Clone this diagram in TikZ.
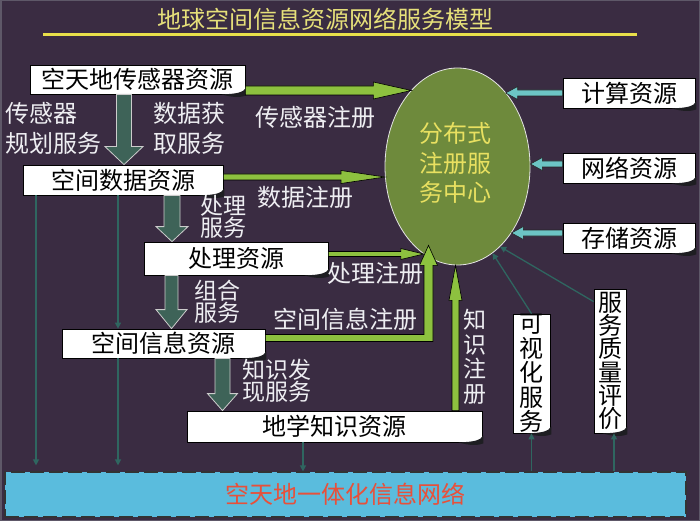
\documentclass[tikz,border=0pt]{standalone}
\usepackage{fontspec}
\newfontfamily\cjk{Noto Sans CJK SC}
\usetikzlibrary{arrows.meta,calc,shapes.geometric}
\definecolor{bgc}{HTML}{3A2C42}
\definecolor{framec}{HTML}{5E5868}
\definecolor{titlec}{HTML}{E6E07A}
\definecolor{rulec}{HTML}{E8E04A}
\definecolor{labelc}{HTML}{EEEEF2}
\definecolor{ellc}{HTML}{6E8A3C}
\definecolor{elltext}{HTML}{E8E060}
\definecolor{greenc}{HTML}{8DC13F}
\definecolor{cyanc}{HTML}{6CC4C4}
\definecolor{tealc}{HTML}{3E6358}
\definecolor{thinc}{HTML}{2F6660}
\definecolor{netc}{HTML}{5ABCDD}
\definecolor{nettext}{HTML}{E8503A}
\definecolor{curlc}{HTML}{1E1E22}
\newcommand\cjkfont[2]{\cjk\fontsize{#1}{#2}\selectfont}
% fat arrow: start, tip, half shaft, half head, head length, style
\newcommand\fatarrow[6]{%
  \coordinate (faA) at (#1);
  \coordinate (faB) at (#2);
  \coordinate (faC) at ($(faB)!#5!(faA)$);
  \filldraw[#6] ($(faA)!#3!90:(faB)$) -- ($(faC)!#3!-90:(faA)$) -- ($(faC)!#4!-90:(faA)$)
    -- (faB) -- ($(faC)!#4!90:(faA)$) -- ($(faC)!#3!90:(faA)$) -- ($(faA)!#3!-90:(faB)$) -- cycle;}
\newcommand\curl[1]{%
  \fill[curlc] let \p1=(#1.south east) in
  (\x1-24pt,\y1) .. controls (\x1-12pt,\y1-3.5pt) and (\x1-4pt,\y1-3pt) .. (\x1+1pt,\y1-1pt)
  -- (\x1+1pt,\y1+7pt) .. controls (\x1-2pt,\y1+2pt) and (\x1-8pt,\y1+0.5pt) .. (\x1-24pt,\y1) -- cycle;}
\begin{document}
\begin{tikzpicture}[x=1pt,y=-1pt,
  box/.style={draw=black, fill=white, line width=0.8pt, inner sep=0pt, text=black, font=\cjkfont{24}{26}},
  vbox/.style={box, align=center},
  lbl/.style={text=labelc, inner sep=0pt, align=left, font=\cjkfont{24}{30}},
  lbltight/.style={text=labelc, inner sep=0pt, align=left, font=\cjkfont{23}{22}},
  lblvert/.style={text=labelc, inner sep=0pt, align=center, font=\cjkfont{23}{24.5}},
  bigarrow/.style={fill=tealc, draw=black!20, line width=0.8pt},
  greenarrow/.style={fill=greenc, draw=black, line width=0.6pt},
  cyanarrow/.style={fill=cyanc, draw=black!85, line width=0.6pt},
  thinarrow/.style={draw=thinc, line width=1.3pt, -{Triangle[length=6pt,width=6pt]}}]
\fill[bgc] (0,0) rectangle (700,521);
\useasboundingbox (0,0) rectangle (700,521);
\draw[framec, line width=1.5pt] (0.75,0.75) rectangle (699.25,520.25);

% title
\node[text=titlec, font=\cjkfont{24}{28}, inner sep=0pt] (title) at (325,19) {地球空间信息资源网络服务模型};
\draw[rulec, line width=2.5pt] (43,34.5) -- (637,34.5);

% network bar
\node[draw=black!80, fill=netc, dash pattern=on 14pt off 5pt, line width=1.2pt,
  minimum width=681pt, minimum height=45pt, inner sep=0pt, text=nettext, font=\cjkfont{24}{26}]
  (net) at (345.5,494.5) {空天地一体化信息网络};

% ellipse
\node[ellipse, draw=white!80!gray, fill=ellc, line width=0.8pt, minimum width=145pt, minimum height=197pt, inner sep=0pt]
  (ell) at (457.5,166.5) {};
\node[text=elltext, align=center, inner sep=0pt, font=\cjkfont{24}{29.5}] (elltxt) at (455,163) {分布式\\注册服\\务中心};

% boxes
\node[box, minimum width=215pt, minimum height=29pt] (sensor) at (137.5,79.5) {空天地传感器资源};
\node[box, minimum width=200pt, minimum height=30pt] (sdata) at (123,180) {空间数据资源};
\node[box, minimum width=184pt, minimum height=33pt] (proc) at (236,258.5) {处理资源};
\node[box, minimum width=203pt, minimum height=29pt] (sinfo) at (163.5,343.5) {空间信息资源};
\node[box, minimum width=295pt, minimum height=31pt] (geo) at (334.5,426.5) {地学知识资源};
\node[box, minimum width=132pt, minimum height=30pt] (comp) at (629,93) {计算资源};
\node[box, minimum width=132pt, minimum height=30pt] (netr) at (629,168) {网络资源};
\node[box, minimum width=132pt, minimum height=30pt] (stor) at (629,238) {存储资源};
\node[vbox, minimum width=37pt, minimum height=119pt, font=\cjkfont{24}{24.5}] (vis) at (531.5,373.5) {可\\视\\化\\服\\务};
\node[vbox, minimum width=32pt, minimum height=144pt, font=\cjkfont{24}{23.2}] (qual) at (610,361) {服\\务\\质\\量\\评\\价};
\foreach \b in {sensor,sdata,proc,sinfo,geo,comp,netr,stor,vis,qual} {\curl{\b}}

% thin connectors
\coordinate (tx1) at (36,0);
\coordinate (tx2) at (118,0);
\coordinate (tx3) at (303,0);
\coordinate (tx5) at (614,0);
\draw[thinarrow, shorten >=6pt] (sdata.south -| tx1) -- (net.north -| tx1);
\draw[thinarrow] (sdata.south -| tx2) -- (sinfo.north -| tx2);
\draw[thinarrow, shorten >=6pt] (sinfo.south -| tx2) -- (net.north -| tx2);
\draw[thinarrow] (geo.south -| tx3) -- (net.north -| tx3);
\draw[thinarrow] (net.north -| vis.south) -- (vis.south);
\draw[thinarrow] (net.north -| tx5) -- (qual.south -| tx5);
\draw[thinarrow] (vis.north) -- (ell.292);
\coordinate (qs) at ($(qual.north west)+(0,13)$);
\draw[thinarrow] (qs) -- (ell.298);

% big service arrows
\coordinate (xd1) at (124,0);
\coordinate (xd2) at (172,0);
\coordinate (xd3) at (171.5,0);
\coordinate (xd4) at (222.5,0);
\fatarrow{sensor.south -| xd1}{sdata.north -| xd1}{7.5pt}{19pt}{18pt}{bigarrow}
\fatarrow{sdata.south -| xd2}{proc.north -| xd2}{8pt}{16pt}{15pt}{bigarrow}
\fatarrow{proc.south -| xd3}{sinfo.north -| xd3}{6.5pt}{15.5pt}{19pt}{bigarrow}
\fatarrow{sinfo.south -| xd4}{geo.north -| xd4}{7.5pt}{15pt}{17pt}{bigarrow}

% registration arrows
\coordinate (gs1) at ($(sensor.east)+(0,11)$);
\fatarrow{gs1}{ell.121 |- gs1}{4.5pt}{8.5pt}{38pt}{greenarrow}
\coordinate (gs2) at ($(sdata.east)+(0,-3)$);
\fatarrow{gs2}{ell.188 |- gs2}{3pt}{6.5pt}{44pt}{greenarrow}
\coordinate (gs3) at ($(proc.east)+(0,-4.5)$);
\fatarrow{gs3}{ell.249 |- gs3}{2.5pt}{5.5pt}{23pt}{greenarrow}
\coordinate (xk) at (455.5,0);
\coordinate (gs5) at (geo.north -| xk);
\fatarrow{gs5}{ell.south -| gs5}{3.5pt}{6.5pt}{35pt}{greenarrow}
\coordinate (gs4) at ($(sinfo.east)+(0,-5.5)$);
\coordinate (gt4) at ($(ell.south)+(-29,-20)$);
\filldraw[greenarrow] let \p1=(gs4), \p2=(gt4) in
  (\x1,\y1+3.5pt) -- (\x2-4.5pt,\y1+3.5pt) -- (\x2-4.5pt,\y2-20pt) -- (\x2-9pt,\y2-20pt) -- (\x2,\y2)
  -- (\x2+9pt,\y2-20pt) -- (\x2+4.5pt,\y2-20pt) -- (\x2+4.5pt,\y1-3.5pt) -- (\x1,\y1-3.5pt) -- cycle;

% resource arrows
\coordinate (cs1) at (comp.west);
\fatarrow{cs1}{ell.57 |- cs1}{3pt}{6.5pt}{12pt}{cyanarrow}
\coordinate (cs2) at ($(netr.west)+(0,-4)$);
\fatarrow{cs2}{ell.2 |- cs2}{3pt}{6.5pt}{12pt}{cyanarrow}
\coordinate (cs3) at ($(stor.west)+(0,-5)$);
\fatarrow{cs3}{ell.309 |- cs3}{3pt}{6.5pt}{12pt}{cyanarrow}

% labels
\node[lbl, anchor=west] (l1) at (5,128) {传感器\\规划服务};
\node[lbl, anchor=west] (l2) at (153,128) {数据获\\取服务};
\node[lbl] (l3) at (315,117) {传感器注册};
\node[lbl] (l4) at (305.5,197) {数据注册};
\node[lbltight, anchor=west] (l5) at (200,217) {处理\\服务};
\node[lbltight, anchor=west] (l6) at (194,302) {组合\\服务};
\node[lbltight, anchor=west] (l7) at (242,381) {知识发\\现服务};
\node[lbl] (l8) at (375,273) {处理注册};
\node[lbl] (l9) at (345,319) {空间信息注册};
\node[lblvert] (l10) at (475,357) {知\\识\\注\\册};
\end{tikzpicture}
\end{document}
